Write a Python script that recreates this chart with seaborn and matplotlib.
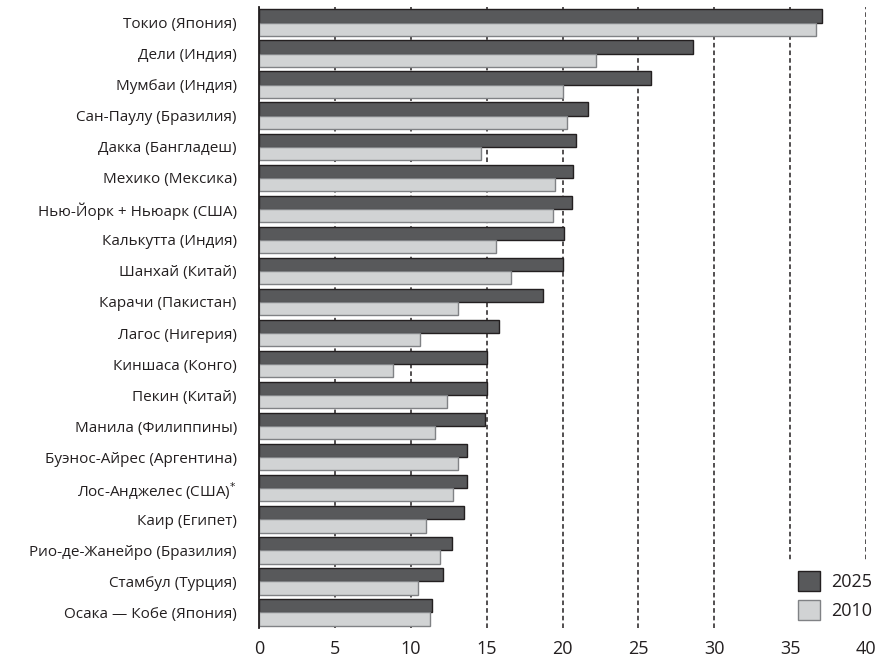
import numpy as np
import pandas as pd
import seaborn as sns
import matplotlib.pyplot as plt
from matplotlib.patches import Patch

# население крупнейших агломераций, млн чел.
cities = [
    "Токио (Япония)",
    "Дели (Индия)",
    "Мумбаи (Индия)",
    "Сан-Паулу (Бразилия)",
    "Дакка (Бангладеш)",
    "Мехико (Мексика)",
    "Нью-Йорк + Ньюарк (США)",
    "Калькутта (Индия)",
    "Шанхай (Китай)",
    "Карачи (Пакистан)",
    "Лагос (Нигерия)",
    "Киншаса (Конго)",
    "Пекин (Китай)",
    "Манила (Филиппины)",
    "Буэнос-Айрес (Аргентина)",
    "Лос-Анджелес (США)$^{*}$",
    "Каир (Египет)",
    "Рио-де-Жанейро (Бразилия)",
    "Стамбул (Турция)",
    "Осака — Кобе (Япония)",
]
pop_2025 = [37.1, 28.6, 25.8, 21.7, 20.9, 20.7, 20.6, 20.1, 20.0, 18.7,
            15.8, 15.0, 15.0, 14.9, 13.7, 13.7, 13.5, 12.7, 12.1, 11.4]
pop_2010 = [36.7, 22.2, 20.0, 20.3, 14.6, 19.5, 19.4, 15.6, 16.6, 13.1,
            10.6, 8.8, 12.4, 11.6, 13.1, 12.8, 11.0, 11.9, 10.5, 11.3]
years = ["2025", "2010"]
x_ticks = [0, 5, 10, 15, 20, 25, 30, 35, 40]

dark = "#58595b"
light = "#d1d3d4"
edges = ["#231f20", "#808285"]

df = pd.DataFrame({
    "city": cities * 2,
    "year": [years[0]] * len(cities) + [years[1]] * len(cities),
    "pop": pop_2025 + pop_2010,
})

sns.set_style("white")
plt.rcParams["font.family"] = ["Open Sans", "DejaVu Sans"]

fig = plt.figure(figsize=(8.8, 6.59), dpi=100)
ax = fig.add_axes([259 / 880, 1 - 628 / 659, (866 - 259) / 880, (628 - 7) / 659])

sns.barplot(data=df, y="city", x="pop", hue="year", hue_order=years,
            palette={years[0]: dark, years[1]: light}, orient="h",
            width=0.85, legend=False, ax=ax)

for cont, ec in zip(ax.containers, edges):
    for bar in cont:
        bar.set_edgecolor(ec)
        bar.set_linewidth(1.0)

ax.set_xlim(0, 40)
ax.set_ylim(len(cities) - 0.5, -0.5)
ax.set_xticks(x_ticks)
ax.set_xlabel("")
ax.set_ylabel("")
ax.xaxis.grid(True, linestyle=(0, (3, 2)), color="#231f20", linewidth=1.1)
ax.yaxis.grid(False)
ax.set_axisbelow(True)

sns.despine(ax=ax, top=True, right=True, bottom=True, left=False)
ax.spines["left"].set_color("#231f20")
ax.spines["left"].set_linewidth(1.3)

ax.tick_params(axis="y", length=0, pad=16, labelsize=11, labelcolor="#231f20")
ax.tick_params(axis="x", length=0, pad=9, labelsize=13, labelcolor="#231f20")

handles = [Patch(facecolor=dark, edgecolor=edges[0], label=years[0]),
           Patch(facecolor=light, edgecolor=edges[1], label=years[1])]
leg = ax.legend(handles=handles, loc="upper left",
                bbox_to_anchor=(787 / 880, 1 - 560 / 659),
                bbox_transform=fig.transFigure, fontsize=13,
                handlelength=1.2, handleheight=1.35, labelspacing=0.5,
                handletextpad=0.65, borderpad=0.6, borderaxespad=0,
                frameon=True, fancybox=False, framealpha=1)
leg.get_frame().set_facecolor("white")
leg.get_frame().set_edgecolor("white")
for t in leg.get_texts():
    t.set_color("#231f20")

plt.savefig("out.png", dpi=100)
